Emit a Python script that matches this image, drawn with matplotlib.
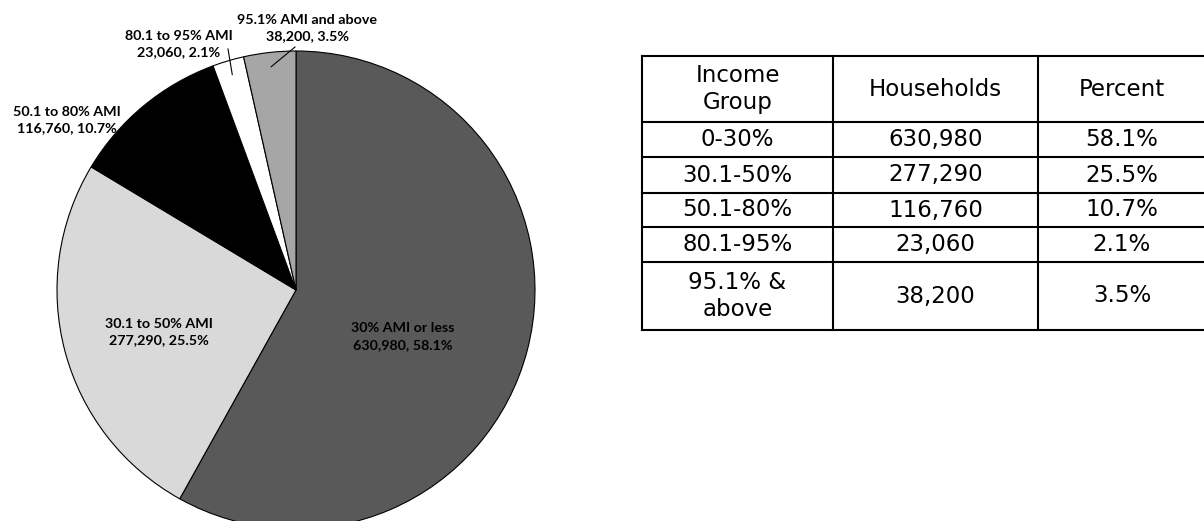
import numpy as np
import matplotlib.pyplot as plt

# income groups (AMI = area median income)
groups = ["0-30%", "30.1-50%", "50.1-80%", "80.1-95%", "95.1% &\nabove"]
households = [630980, 277290, 116760, 23060, 38200]
percents = [58.1, 25.5, 10.7, 2.1, 3.5]
pie_names = ["30% AMI or less", "30.1 to 50% AMI", "50.1 to 80% AMI",
             "80.1 to 95% AMI", "95.1% AMI and above"]
colors = ["#595959", "#d9d9d9", "#000000", "#ffffff", "#a6a6a6"]
headers = ["Income\nGroup", "Households", "Percent"]

W, H = 1204, 521
fig = plt.figure(figsize=(W / 100, H / 100), dpi=100)
ax = fig.add_axes([0, 0, 1, 1])

# ---- pie (pixel coordinates, y measured up from the bottom) ----
cx, cy, r = 296, H - 290, 239
wedges, _ = ax.pie(households, colors=colors, startangle=90, counterclock=False,
                   center=(cx, cy), radius=r,
                   wedgeprops=dict(edgecolor="black", linewidth=0.8))

# label positions for each slice (text centre)
label_pos = [(403, 337), (159, 332), (67, 120), (179, 44), (307, 28)]
lab_font = dict(family=["Lato", "DejaVu Sans"], fontweight="bold", fontsize=10.3,
                color="black", ha="center", va="center", linespacing=1.5)
for i, (name, n, p) in enumerate(zip(pie_names, households, percents)):
    txt = f"{name}\n{n:,}, {p}%"
    x, y = label_pos[i]
    ax.text(x, H - y, txt, **lab_font)

# leader lines for the two thin slices
for i in (3, 4):
    w = wedges[i]
    mid = np.deg2rad((w.theta1 + w.theta2) / 2)
    ex, ey = cx + 0.94 * r * np.cos(mid), cy + 0.94 * r * np.sin(mid)
    sx, sy = (228, H - 49) if i == 3 else (295, H - 47)
    ax.plot([sx, ex], [sy, ey], color="black", linewidth=0.8)

# ---- table ----
col_x = [642, 833, 1038, 1206]
row_y = [56, 122, 157, 193, 227, 262, 330]
lw = 1.5
for y in row_y:
    ax.plot([col_x[0], col_x[-1]], [H - y, H - y], color="black", linewidth=lw,
            solid_capstyle="projecting")
for x in col_x:
    ax.plot([x, x], [H - row_y[0], H - row_y[-1]], color="black", linewidth=lw,
            solid_capstyle="projecting")

tab_font = dict(family="DejaVu Sans", fontsize=16.5, color="black",
                ha="center", va="center", linespacing=1.2)
col_c = [(col_x[j] + col_x[j + 1]) / 2 for j in range(3)]
row_c = [(row_y[k] + row_y[k + 1]) / 2 for k in range(6)]

for j, h in enumerate(headers):
    ax.text(col_c[j], H - row_c[0], h, **tab_font)
for k, (g, n, p) in enumerate(zip(groups, households, percents)):
    yc = H - row_c[k + 1]
    ax.text(col_c[0], yc, g, **tab_font)
    ax.text(col_c[1], yc, f"{n:,}", **tab_font)
    ax.text(col_c[2], yc, f"{p}%", **tab_font)

ax.set_xlim(0, W)
ax.set_ylim(0, H)
ax.set_aspect("auto")
ax.axis("off")

fig.savefig("out.png", dpi=100)
